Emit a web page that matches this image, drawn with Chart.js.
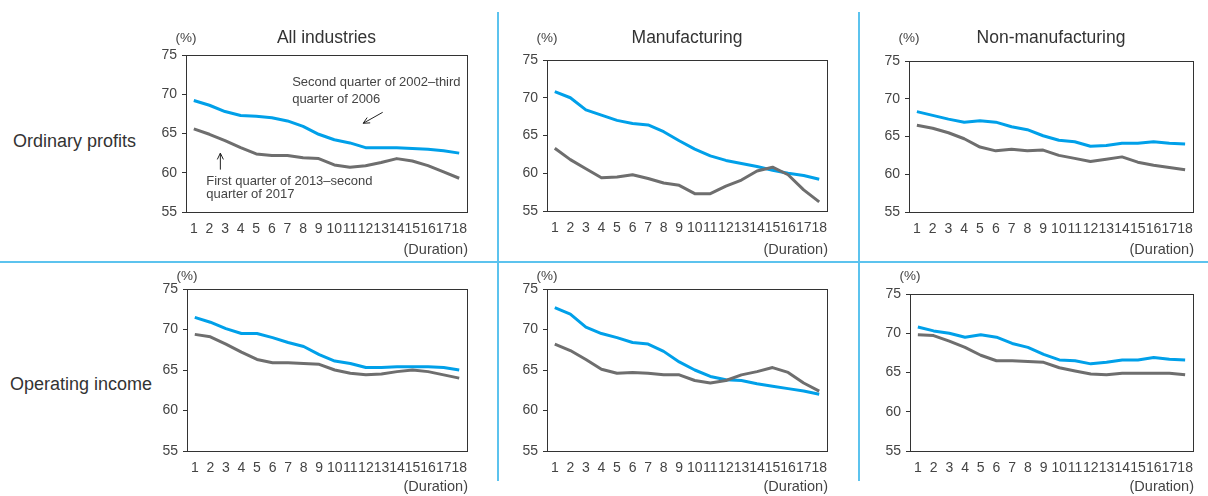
<!DOCTYPE html>
<html>
<head>
<meta charset="utf-8">
<script src="https://cdn.jsdelivr.net/npm/chart.js@4"></script>
<style>
  html, body { margin: 0; padding: 0; background: #fff; }
  #wrap { position: relative; width: 1208px; height: 496px; overflow: hidden; font-family: "Liberation Sans", Arial, sans-serif; color: #333; }
  #wrap canvas { position: absolute; }
  .rowlab { position: absolute; font-size: 18px; line-height: 18px; color: #333; white-space: nowrap; }
  .hline { position: absolute; left: 0; top: 261px; width: 1208px; height: 1.5px; background: #5cc3ee; }
  .vline { position: absolute; top: 12px; width: 1.5px; height: 469px; background: #5cc3ee; }
</style>
</head>
<body>
<div id="wrap">
  <div class="hline"></div>
  <div class="vline" style="left:497px"></div>
  <div class="vline" style="left:858px"></div>
  <div class="rowlab" style="left:13px;top:132px">Ordinary profits</div>
  <div class="rowlab" style="left:10px;top:375px">Operating income</div>
</div>
<script>
// x categories (duration, quarters)
var durations = ["1","2","3","4","5","6","7","8","9","10","11","12","13","14","15","16","17","18"];
var yTicks = [55, 60, 65, 70, 75];

var series2002 = "Second quarter of 2002–third quarter of 2006";
var series2013 = "First quarter of 2013–second quarter of 2017";

// Ordinary profits
var allOrd2002 = [69.2, 68.6, 67.8, 67.3, 67.2, 67.0, 66.6, 65.9, 64.9, 64.2, 63.8, 63.2, 63.2, 63.2, 63.1, 63.0, 62.8, 62.5];
var allOrd2013 = [65.6, 64.9, 64.1, 63.2, 62.4, 62.2, 62.2, 61.9, 61.8, 61.0, 60.7, 60.9, 61.3, 61.8, 61.5, 60.9, 60.1, 59.3];
var mfgOrd2002 = [70.8, 70.0, 68.4, 67.7, 67.0, 66.6, 66.4, 65.5, 64.3, 63.2, 62.3, 61.7, 61.3, 60.9, 60.4, 60.0, 59.7, 59.2];
var mfgOrd2013 = [63.3, 61.8, 60.6, 59.4, 59.5, 59.8, 59.3, 58.7, 58.4, 57.3, 57.3, 58.3, 59.1, 60.3, 60.8, 59.8, 57.8, 56.2];
var nonOrd2002 = [68.3, 67.8, 67.3, 66.9, 67.1, 66.9, 66.3, 65.9, 65.1, 64.5, 64.3, 63.7, 63.8, 64.1, 64.1, 64.3, 64.1, 64.0];
var nonOrd2013 = [66.5, 66.1, 65.5, 64.7, 63.6, 63.1, 63.3, 63.1, 63.2, 62.5, 62.1, 61.7, 62.0, 62.3, 61.6, 61.2, 60.9, 60.6];

// Operating income
var allOpe2002 = [71.5, 70.9, 70.1, 69.5, 69.5, 69.0, 68.4, 67.9, 66.9, 66.1, 65.8, 65.3, 65.3, 65.4, 65.4, 65.4, 65.3, 65.0];
var allOpe2013 = [69.4, 69.1, 68.2, 67.2, 66.3, 65.9, 65.9, 65.8, 65.7, 65.0, 64.6, 64.4, 64.5, 64.8, 65.0, 64.8, 64.4, 64.0];
var mfgOpe2002 = [72.7, 71.9, 70.3, 69.5, 69.0, 68.4, 68.2, 67.3, 66.0, 65.0, 64.2, 63.8, 63.7, 63.3, 63.0, 62.7, 62.4, 62.0];
var mfgOpe2013 = [68.2, 67.4, 66.3, 65.1, 64.6, 64.7, 64.6, 64.4, 64.4, 63.7, 63.4, 63.7, 64.4, 64.8, 65.3, 64.7, 63.4, 62.4];
var nonOpe2002 = [70.8, 70.3, 70.0, 69.5, 69.8, 69.5, 68.7, 68.2, 67.3, 66.6, 66.5, 66.1, 66.3, 66.6, 66.6, 66.9, 66.7, 66.6];
var nonOpe2013 = [69.8, 69.7, 69.0, 68.2, 67.2, 66.5, 66.5, 66.4, 66.3, 65.6, 65.2, 64.8, 64.7, 64.9, 64.9, 64.9, 64.9, 64.7];

var BLUE = "#00a0e9";
var GRAY = "#6e6e6e";
var FONT = "'Liberation Sans', Arial, sans-serif";

// cell = canvas rect on page, box = plot area on page
var panels = [
  { cell: [150, 0, 498, 262],   box: [186, 55, 467, 212],  title: "All industries",    pctY: 38,  durY: 250, a: allOrd2002, b: allOrd2013, notes: true },
  { cell: [500, 0, 858, 262],   box: [547, 60, 827, 211],  title: "Manufacturing",     pctY: 38,  durY: 250, a: mfgOrd2002, b: mfgOrd2013 },
  { cell: [860, 0, 1208, 262],  box: [909, 61, 1193, 212], title: "Non-manufacturing", pctY: 38,  durY: 250, a: nonOrd2002, b: nonOrd2013 },
  { cell: [150, 262, 498, 496], box: [187, 289, 467, 451], title: "",                  pctY: 276, durY: 487, a: allOpe2002, b: allOpe2013 },
  { cell: [500, 262, 858, 496], box: [547, 289, 827, 451], title: "",                  pctY: 276, durY: 487, a: mfgOpe2002, b: mfgOpe2013 },
  { cell: [860, 262, 1208, 496],box: [910, 294, 1193, 451],title: "",                  pctY: 276, durY: 487, a: nonOpe2002, b: nonOpe2013 }
];

var Y_AXIS_W = 30, X_AXIS_H = 30;

function arrow(ctx, x1, y1, x2, y2) {
  var ang = Math.atan2(y2 - y1, x2 - x1), h = 7;
  ctx.beginPath();
  ctx.moveTo(x1, y1); ctx.lineTo(x2, y2);
  ctx.moveTo(x2 - h * Math.cos(ang - 0.45), y2 - h * Math.sin(ang - 0.45));
  ctx.lineTo(x2, y2);
  ctx.lineTo(x2 - h * Math.cos(ang + 0.45), y2 - h * Math.sin(ang + 0.45));
  ctx.stroke();
}

var panelText = {
  id: 'panelText',
  afterDraw: function (chart) {
    var p = chart.options.plugins.panelText.panel;
    var ctx = chart.ctx, ca = chart.chartArea;
    var oy = p.cell[1];
    ctx.save();
    ctx.strokeStyle = "#333";
    ctx.lineWidth = 1;
    ctx.strokeRect(Math.round(ca.left) + 0.5, Math.round(ca.top) + 0.5, Math.round(ca.right - ca.left), Math.round(ca.bottom - ca.top));
    ctx.fillStyle = "#333";
    ctx.textBaseline = "middle";
    if (p.title) {
      ctx.font = "17.5px " + FONT;
      ctx.textAlign = "center";
      ctx.fillText(p.title, (ca.left + ca.right) / 2, 38 - oy);
    }
    ctx.font = "13.5px " + FONT;
    ctx.fillStyle = "#444";
    ctx.textAlign = "center";
    ctx.fillText("(%)", ca.left, p.pctY - oy);
    ctx.font = "14.5px " + FONT;
    ctx.textAlign = "right";
    ctx.fillText("(Duration)", ca.right + 1, p.durY - oy);
    if (p.notes) {
      var xs = chart.scales.x, ys = chart.scales.y;
      ctx.font = "13px " + FONT;
      ctx.textAlign = "left";
      ctx.fillText("Second quarter of 2002–third", xs.getPixelForValue(6.3), ys.getPixelForValue(71.5));
      ctx.fillText("quarter of 2006", xs.getPixelForValue(6.3), ys.getPixelForValue(69.4));
      ctx.fillText("First quarter of 2013–second", xs.getPixelForValue(0.8), ys.getPixelForValue(58.85));
      ctx.fillText("quarter of 2017", xs.getPixelForValue(0.8), ys.getPixelForValue(57.2));
      ctx.strokeStyle = "#222";
      ctx.lineWidth = 1;
      arrow(ctx, xs.getPixelForValue(12.1), ys.getPixelForValue(67.7), xs.getPixelForValue(10.85), ys.getPixelForValue(66.3));
      arrow(ctx, xs.getPixelForValue(1.7), ys.getPixelForValue(60.4), xs.getPixelForValue(1.7), ys.getPixelForValue(62.5));
    }
    ctx.restore();
  }
};

var wrap = document.getElementById("wrap");
panels.forEach(function (p) {
  var cv = document.createElement("canvas");
  var w = p.cell[2] - p.cell[0], h = p.cell[3] - p.cell[1];
  cv.width = w; cv.height = h;
  cv.style.left = p.cell[0] + "px"; cv.style.top = p.cell[1] + "px";
  cv.style.width = w + "px"; cv.style.height = h + "px";
  wrap.appendChild(cv);

  new Chart(cv.getContext('2d'), {
    type: 'line',
    data: {
      labels: durations,
      datasets: [
        { label: series2002, data: p.a, borderColor: BLUE, borderWidth: 3, pointRadius: 0, tension: 0, borderJoinStyle: 'round', order: 2 },
        { label: series2013, data: p.b, borderColor: GRAY, borderWidth: 3, pointRadius: 0, tension: 0, borderJoinStyle: 'round', order: 1 }
      ]
    },
    options: {
      responsive: false,
      animation: false,
      devicePixelRatio: 1,
      layout: {
        padding: {
          left: p.box[0] - p.cell[0] - Y_AXIS_W,
          top: p.box[1] - p.cell[1],
          right: p.cell[2] - p.box[2],
          bottom: p.cell[3] - p.box[3] - X_AXIS_H
        }
      },
      plugins: {
        legend: { display: false },
        tooltip: { enabled: false },
        panelText: { panel: p }
      },
      scales: {
        x: {
          offset: true,
          clip: false,
          grid: { display: false, drawTicks: false },
          border: { display: false },
          ticks: { autoSkip: false, maxRotation: 0, minRotation: 0, padding: 9, color: "#444", font: { family: FONT, size: 14 } },
          afterFit: function (s) { s.height = X_AXIS_H; }
        },
        y: {
          min: 55, max: 75,
          clip: false,
          afterBuildTicks: function (s) { s.ticks = yTicks.map(function (v) { return { value: v }; }); },
          grid: { drawOnChartArea: false, drawTicks: true, tickLength: 4, color: "#333" },
          border: { display: false },
          ticks: { padding: 5, color: "#444", font: { family: FONT, size: 14 } },
          afterFit: function (s) { s.width = Y_AXIS_W; }
        }
      }
    },
    plugins: [panelText]
  });
});
</script>
</body>
</html>
